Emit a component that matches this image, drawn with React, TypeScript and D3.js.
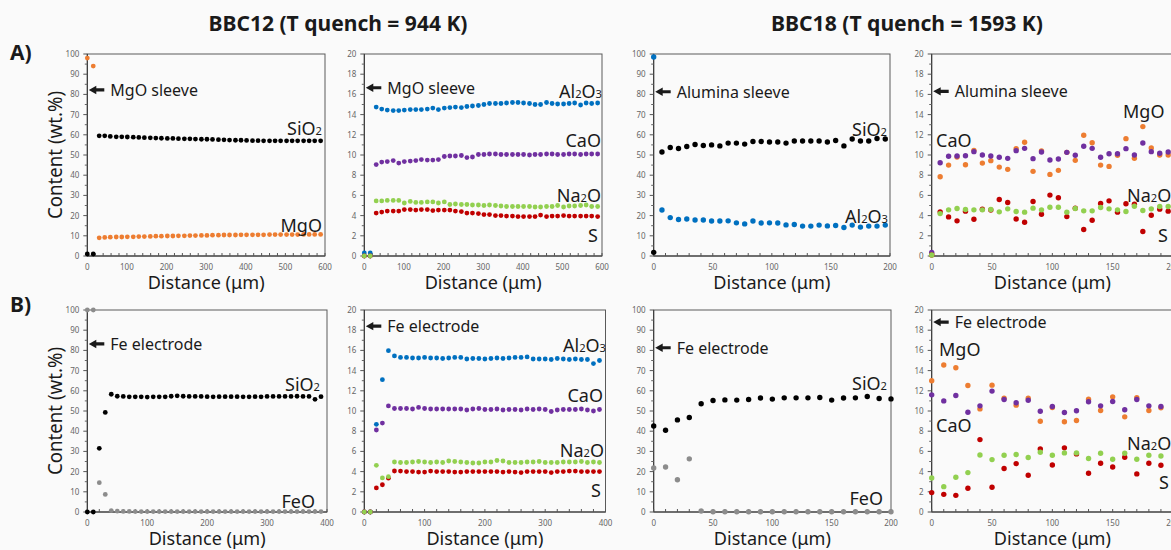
import React from 'react';
import * as d3 from 'd3';

// BBC12, profile A (MgO sleeve side) - distance in µm, contents in wt.%
const bbc12aDist = [0, 15, 30, 44, 58, 73, 87, 101, 116, 130, 144, 159, 173, 187, 202, 216, 230, 245, 259, 273, 288, 302, 316, 331, 345, 359, 374, 388, 402, 417, 431, 445, 460, 474, 488, 503, 517, 531, 546, 560, 574, 589];
const bbc12aSiO2 = [1, 1, 59.5, 59.5, 59.2, 59.0, 59.0, 58.9, 58.8, 58.7, 58.6, 58.5, 58.4, 58.3, 58.2, 58.2, 58.1, 58.0, 58.0, 57.9, 57.8, 57.8, 57.7, 57.6, 57.5, 57.4, 57.3, 57.3, 57.2, 57.1, 57.1, 57.0, 57.0, 57.0, 57.0, 57.0, 57.0, 57.0, 57.0, 57.0, 57.0, 57.0];
const bbc12aMgO = [98, 94, 9.0, 9.2, 9.3, 9.4, 9.4, 9.5, 9.5, 9.6, 9.6, 9.7, 9.8, 9.8, 9.9, 9.9, 10.0, 10.0, 10.1, 10.1, 10.2, 10.2, 10.3, 10.3, 10.4, 10.4, 10.4, 10.5, 10.5, 10.5, 10.5, 10.5, 10.6, 10.6, 10.6, 10.6, 10.6, 10.6, 10.7, 10.7, 10.7, 10.7];
const bbc12aAl2O3 = [0.3, 0.3, 14.75, 14.55, 14.45, 14.4, 14.4, 14.45, 14.5, 14.5, 14.5, 14.55, 14.65, 14.5, 14.65, 14.7, 14.75, 14.7, 14.8, 14.85, 14.9, 15.0, 15.1, 15.1, 15.1, 15.15, 15.2, 15.2, 15.15, 15.1, 15.0, 15.0, 15.2, 15.1, 15.05, 15.05, 15.1, 15.15, 14.95, 15.15, 15.1, 15.15];
const bbc12aCaO = [0, 0, 9.05, 9.3, 9.35, 9.45, 9.2, 9.35, 9.4, 9.45, 9.55, 9.5, 9.5, 9.55, 9.85, 9.9, 9.9, 9.95, 9.75, 9.8, 10.05, 10.05, 10.1, 10.1, 10.05, 10.05, 10.05, 10.05, 10.05, 10.0, 10.05, 10.05, 10.1, 10.1, 10.05, 10.05, 10.1, 10.1, 10.05, 10.1, 10.1, 10.1];
const bbc12aNa2O = [0, 0, 5.45, 5.45, 5.5, 5.5, 5.5, 5.25, 5.4, 5.3, 5.3, 5.35, 5.35, 5.25, 5.35, 5.1, 5.15, 5.1, 5.1, 5.05, 5.05, 5.0, 5.05, 5.0, 4.95, 4.9, 4.9, 4.9, 4.9, 4.9, 4.85, 4.85, 4.9, 4.9, 5.0, 4.85, 4.95, 4.95, 5.0, 5.05, 4.9, 4.9];
const bbc12aS = [0, 0, 4.25, 4.35, 4.45, 4.45, 4.45, 4.6, 4.6, 4.55, 4.6, 4.6, 4.5, 4.55, 4.55, 4.55, 4.45, 4.4, 4.25, 4.25, 4.2, 4.1, 4.1, 4.0, 4.0, 3.95, 3.95, 3.9, 3.9, 3.9, 3.9, 4.05, 3.9, 3.95, 3.95, 4.0, 3.95, 3.95, 3.95, 3.95, 3.95, 3.9];

// BBC12, profile B (Fe electrode side)
const bbc12bDist = [0, 10, 20, 30, 40, 50, 60, 70, 80, 90, 100, 110, 120, 130, 140, 150, 160, 170, 180, 190, 200, 210, 220, 230, 240, 250, 260, 270, 280, 290, 300, 310, 320, 330, 340, 350, 360, 370, 380, 390];
const bbc12bSiO2 = [0, 0, 31.5, 49.3, 58.3, 57.3, 57.2, 57.0, 57.0, 57.0, 56.9, 57.0, 57.0, 57.0, 57.3, 57.5, 57.3, 57.2, 57.2, 57.2, 57.1, 57.0, 57.1, 57.1, 57.1, 57.1, 57.0, 57.0, 57.1, 57.0, 57.2, 57.2, 57.2, 57.2, 57.2, 57.3, 57.2, 57.2, 55.8, 57.1];
const bbc12bFeO = [100, 100, 14.5, 8.7, 0.7, 0.4, 0.3, 0.3, 0.2, 0.2, 0.2, 0.2, 0.2, 0.2, 0.2, 0.2, 0.2, 0.2, 0.2, 0.2, 0.2, 0.2, 0.2, 0.2, 0.2, 0.2, 0.2, 0.2, 0.2, 0.2, 0.2, 0.2, 0.2, 0.2, 0.2, 0.2, 0.2, 0.2, 0.2, 0.2];
const bbc12bAl2O3 = [0, 0, 8.68, 13.1, 15.97, 15.45, 15.3, 15.3, 15.25, 15.25, 15.3, 15.25, 15.25, 15.2, 15.25, 15.3, 15.3, 15.15, 15.2, 15.2, 15.15, 15.2, 15.25, 15.2, 15.25, 15.3, 15.3, 15.35, 15.15, 15.15, 15.15, 15.1, 15.2, 15.15, 15.1, 15.15, 15.1, 15.1, 14.7, 15.0];
const bbc12bCaO = [0, 0, 8.12, 8.8, 10.5, 10.25, 10.25, 10.25, 10.2, 10.35, 10.25, 10.2, 10.2, 10.2, 10.2, 10.2, 10.2, 10.1, 10.2, 10.25, 10.15, 10.15, 10.2, 10.1, 10.15, 10.15, 10.1, 10.2, 10.15, 10.2, 10.15, 9.95, 10.1, 10.15, 10.15, 10.15, 10.2, 10.1, 10.0, 10.15];
const bbc12bNa2O = [0, 0, 4.62, 3.37, 3.5, 4.95, 4.9, 4.9, 4.95, 5.0, 4.95, 4.9, 4.95, 4.9, 5.05, 5.0, 4.95, 4.9, 4.85, 4.85, 4.95, 4.95, 5.1, 5.05, 4.9, 4.9, 4.9, 4.95, 4.95, 5.0, 4.9, 4.9, 4.9, 4.95, 4.95, 4.95, 5.0, 4.9, 4.95, 4.9];
const bbc12bS = [0, 0, 2.38, 2.7, 3.35, 4.06, 4.05, 4.0, 4.0, 3.95, 3.95, 4.05, 4.0, 4.0, 4.0, 3.95, 3.95, 4.0, 4.0, 4.0, 4.0, 4.0, 4.0, 3.95, 4.0, 3.95, 3.9, 4.0, 4.0, 4.0, 4.0, 3.9, 4.0, 4.0, 4.05, 4.05, 4.0, 4.0, 4.0, 4.0];

// BBC18, profile A (alumina sleeve side)
const bbc18aDist = [0, 7, 14, 21, 28, 35, 42, 49, 56, 63, 70, 77, 84, 91, 98, 105, 112, 119, 126, 133, 140, 147, 154, 161, 168, 175, 182, 189, 196];
const bbc18aSiO2 = [1.8, 51.5, 53.7, 53.2, 54.2, 55.2, 54.7, 55.0, 54.5, 55.9, 55.9, 55.4, 56.7, 56.7, 56.4, 56.4, 55.9, 56.9, 56.9, 56.9, 56.9, 56.4, 57.2, 54.5, 57.9, 56.9, 56.9, 58.2, 57.9];
const bbc18aAl2O3 = [98.5, 22.8, 19.0, 18.1, 18.3, 17.8, 17.8, 17.3, 17.3, 17.4, 16.4, 15.9, 17.3, 16.3, 16.4, 16.3, 15.4, 15.6, 14.8, 14.8, 15.3, 14.9, 15.1, 14.1, 15.3, 14.3, 14.8, 14.8, 15.3];
const bbc18aMgO = [0.2, 7.85, 9.0, 9.8, 9.04, 10.46, 9.2, 9.44, 8.8, 8.58, 10.63, 11.26, 8.38, 10.4, 8.08, 8.48, 10.26, 9.47, 11.95, 11.22, 9.0, 8.87, 9.97, 11.62, 9.67, 12.81, 10.7, 10.0, 10.0];
const bbc18aCaO = [0.35, 9.24, 9.87, 9.9, 9.93, 10.33, 10.0, 9.9, 9.77, 9.67, 10.43, 10.66, 9.64, 10.3, 9.5, 9.6, 10.26, 9.97, 10.86, 10.66, 9.77, 10.13, 10.13, 10.63, 10.0, 11.19, 10.33, 10.17, 10.3];
const bbc18aNa2O = [0.1, 4.2, 4.57, 4.7, 4.6, 4.57, 4.57, 4.6, 4.37, 4.67, 4.4, 4.34, 4.74, 4.57, 4.83, 4.83, 4.34, 4.7, 4.47, 4.47, 4.8, 4.67, 4.57, 4.4, 4.93, 4.5, 4.67, 4.9, 4.9];
const bbc18aS = [0.1, 4.37, 3.87, 3.48, 4.44, 3.64, 4.64, 4.55, 5.6, 5.3, 3.67, 3.34, 5.4, 4.14, 6.03, 5.76, 3.9, 4.73, 2.62, 3.54, 5.2, 5.46, 4.34, 5.17, 5.13, 2.42, 4.04, 4.64, 4.44];

// BBC18, profile B (Fe electrode side)
const bbc18bDist = [0, 10, 20, 30, 40, 50, 60, 70, 80, 90, 100, 110, 120, 130, 140, 150, 160, 170, 180, 190, 200];
const bbc18bSiO2 = [42.6, 40.5, 45.6, 46.8, 53.6, 55.2, 55.5, 55.4, 55.7, 56.4, 55.9, 56.5, 56.5, 56.5, 56.7, 55.4, 56.4, 56.5, 57.2, 56.2, 56.0];
const bbc18bFeO = [21.8, 22.3, 16.0, 26.3, 0.5, 0.1, 0.1, 0.1, 0.1, 0.1, 0.1, 0.1, 0.1, 0.1, 0.1, 0.1, 0.1, 0.1, 0.1, 0.1, 0.1];
const bbc18bMgO = [13.0, 14.55, 14.28, 12.53, 10.21, 12.56, 11.27, 10.58, 11.27, 8.99, 10.35, 8.93, 9.06, 11.17, 10.05, 11.4, 9.42, 11.31, 10.05, 10.31];
const bbc18bCaO = [11.6, 11.0, 11.54, 9.88, 10.51, 11.97, 11.14, 10.81, 11.07, 9.98, 10.45, 9.85, 10.02, 10.91, 10.51, 10.94, 10.12, 11.14, 10.51, 10.45];
const bbc18bNa2O = [3.37, 2.51, 3.44, 3.9, 5.65, 5.19, 5.62, 5.69, 5.39, 5.92, 5.62, 5.85, 5.85, 5.29, 5.82, 5.22, 5.82, 5.22, 5.62, 5.55];
const bbc18bS = [1.92, 1.75, 1.65, 2.35, 7.17, 2.45, 4.3, 4.79, 3.64, 6.25, 4.66, 6.35, 5.75, 3.83, 4.83, 4.46, 5.42, 3.77, 4.83, 4.63];

const COLORS: Record<string, string> = {
  SiO2: '#000000',
  MgO: '#ED7D31',
  Al2O3: '#0070C0',
  CaO: '#7030A0',
  Na2O: '#92D050',
  S: '#C00000',
  FeO: '#8C8C8C',
};

const FONT = "'Noto Sans', 'Open Sans', sans-serif";

type Series = { name: string; values: number[] };
type Tag = { text: string; x: number; y: number; anchor: 'start' | 'end' };
type PanelCfg = {
  left: number; right: number; top: number; bottom: number;
  xMax: number; yMax: number; xStep: number; xMinor: number;
  dist: number[]; series: Series[]; tags: Tag[];
  note: string; noteY: number; r: number; yTitle: boolean;
};

// chemical formula with small digits
const Chem = ({ s }: { s: string }) => (
  <>
    {s.split(/(\d)/).filter(Boolean).map((p, i) =>
      /\d/.test(p)
        ? <tspan key={i} fontSize="0.62em">{p}</tspan>
        : <tspan key={i}>{p}</tspan>
    )}
  </>
);

const TOP = { top: 54, bottom: 256 };
const BOT = { top: 310, bottom: 512 };

const panels: PanelCfg[] = [
  {
    ...TOP, left: 87.3, right: 325, xMax: 600, yMax: 100, xStep: 100, xMinor: 20, r: 2.4, yTitle: true,
    dist: bbc12aDist,
    series: [{ name: 'SiO2', values: bbc12aSiO2 }, { name: 'MgO', values: bbc12aMgO }],
    tags: [{ text: 'SiO2', x: 322, y: 135, anchor: 'end' }, { text: 'MgO', x: 322, y: 232, anchor: 'end' }],
    note: 'MgO sleeve', noteY: 82.2,
  },
  {
    ...TOP, left: 364.3, right: 602, xMax: 600, yMax: 20, xStep: 100, xMinor: 20, r: 2.4, yTitle: false,
    dist: bbc12aDist,
    series: [{ name: 'Al2O3', values: bbc12aAl2O3 }, { name: 'CaO', values: bbc12aCaO }, { name: 'S', values: bbc12aS }, { name: 'Na2O', values: bbc12aNa2O }],
    tags: [
      { text: 'Al2O3', x: 602, y: 98, anchor: 'end' }, { text: 'CaO', x: 601, y: 147, anchor: 'end' },
      { text: 'Na2O', x: 601, y: 202, anchor: 'end' }, { text: 'S', x: 598, y: 242, anchor: 'end' },
    ],
    note: 'MgO sleeve', noteY: 16.66,
  },
  {
    ...TOP, left: 653.7, right: 890, xMax: 200, yMax: 100, xStep: 50, xMinor: 10, r: 2.7, yTitle: false,
    dist: bbc18aDist,
    series: [{ name: 'SiO2', values: bbc18aSiO2 }, { name: 'Al2O3', values: bbc18aAl2O3 }],
    tags: [{ text: 'SiO2', x: 887, y: 136, anchor: 'end' }, { text: 'Al2O3', x: 888, y: 223, anchor: 'end' }],
    note: 'Alumina sleeve', noteY: 81.3,
  },
  {
    ...TOP, left: 931.7, right: 1173, xMax: 200, yMax: 20, xStep: 50, xMinor: 10, r: 2.7, yTitle: false,
    dist: bbc18aDist,
    series: [{ name: 'MgO', values: bbc18aMgO }, { name: 'CaO', values: bbc18aCaO }, { name: 'S', values: bbc18aS }, { name: 'Na2O', values: bbc18aNa2O }],
    tags: [
      { text: 'CaO', x: 936, y: 147, anchor: 'start' }, { text: 'MgO', x: 1123, y: 118, anchor: 'start' },
      { text: 'Na2O', x: 1127, y: 202, anchor: 'start' }, { text: 'S', x: 1158, y: 242, anchor: 'start' },
    ],
    note: 'Alumina sleeve', noteY: 16.3,
  },
  {
    ...BOT, left: 87.3, right: 327, xMax: 400, yMax: 100, xStep: 100, xMinor: 20, r: 2.4, yTitle: true,
    dist: bbc12bDist,
    series: [{ name: 'FeO', values: bbc12bFeO }, { name: 'SiO2', values: bbc12bSiO2 }],
    tags: [{ text: 'SiO2', x: 320, y: 391, anchor: 'end' }, { text: 'FeO', x: 315, y: 508, anchor: 'end' }],
    note: 'Fe electrode', noteY: 83.2,
  },
  {
    ...BOT, left: 364.3, right: 605.5, xMax: 400, yMax: 20, xStep: 100, xMinor: 20, r: 2.4, yTitle: false,
    dist: bbc12bDist,
    series: [{ name: 'Al2O3', values: bbc12bAl2O3 }, { name: 'CaO', values: bbc12bCaO }, { name: 'S', values: bbc12bS }, { name: 'Na2O', values: bbc12bNa2O }],
    tags: [
      { text: 'Al2O3', x: 606, y: 352, anchor: 'end' }, { text: 'CaO', x: 603, y: 402, anchor: 'end' },
      { text: 'Na2O', x: 604, y: 457, anchor: 'end' }, { text: 'S', x: 601, y: 497, anchor: 'end' },
    ],
    note: 'Fe electrode', noteY: 18.4,
  },
  {
    ...BOT, left: 653.7, right: 891, xMax: 200, yMax: 100, xStep: 50, xMinor: 10, r: 2.7, yTitle: false,
    dist: bbc18bDist,
    series: [{ name: 'FeO', values: bbc18bFeO }, { name: 'SiO2', values: bbc18bSiO2 }],
    tags: [{ text: 'SiO2', x: 887, y: 390, anchor: 'end' }, { text: 'FeO', x: 883, y: 505, anchor: 'end' }],
    note: 'Fe electrode', noteY: 81.3,
  },
  {
    ...BOT, left: 931.7, right: 1173, xMax: 200, yMax: 20, xStep: 50, xMinor: 10, r: 2.7, yTitle: false,
    dist: bbc18bDist,
    series: [{ name: 'MgO', values: bbc18bMgO }, { name: 'CaO', values: bbc18bCaO }, { name: 'S', values: bbc18bS }, { name: 'Na2O', values: bbc18bNa2O }],
    tags: [
      { text: 'MgO', x: 939, y: 356, anchor: 'start' }, { text: 'CaO', x: 936, y: 432, anchor: 'start' },
      { text: 'Na2O', x: 1127, y: 450, anchor: 'start' }, { text: 'S', x: 1159, y: 489, anchor: 'start' },
    ],
    note: 'Fe electrode', noteY: 18.8,
  },
];

function Panel({ p }: { p: PanelCfg }) {
  const x = d3.scaleLinear().domain([0, p.xMax]).range([p.left, p.right]);
  const y = d3.scaleLinear().domain([0, p.yMax]).range([p.bottom, p.top]);
  const yMajor = d3.range(0, p.yMax + 1e-9, p.yMax / 10);
  const yMinor = d3.range(p.yMax / 20, p.yMax, p.yMax / 10);
  const xAll = d3.range(0, p.xMax + 1e-9, p.xMinor);
  const xMajor = xAll.filter(v => Math.abs(v % p.xStep) < 1e-9);
  const ay = y(p.noteY);
  const ax = p.left;
  const arrow = `M${ax + 1.5},${ay} L${ax + 9},${ay - 4.2} L${ax + 9},${ay - 1.6} L${ax + 17},${ay - 1.6} L${ax + 17},${ay + 1.6} L${ax + 9},${ay + 1.6} L${ax + 9},${ay + 4.2} Z`;

  return (
    <g>
      <rect x={p.left} y={p.top} width={p.right - p.left} height={p.bottom - p.top} fill="none" stroke="#5a5a5a" strokeWidth={1} />
      <line x1={p.left} x2={p.left} y1={p.top} y2={p.bottom} stroke="#333" />
      <line x1={p.left} x2={p.right} y1={p.bottom} y2={p.bottom} stroke="#333" />
      {yMajor.map(v => (
        <g key={'ym' + v}>
          <line x1={p.left - 4} x2={p.left} y1={y(v)} y2={y(v)} stroke="#555" />
          <text x={p.left - 8} y={y(v) + 3} textAnchor="end" fontSize={8} fill="#666">{v}</text>
        </g>
      ))}
      {yMinor.map(v => (
        <line key={'yn' + v} x1={p.left - 2.5} x2={p.left} y1={y(v)} y2={y(v)} stroke="#666" />
      ))}
      {xAll.map(v => (
        <line key={'xt' + v} x1={x(v)} x2={x(v)} y1={p.bottom} y2={p.bottom - 3} stroke="#555" />
      ))}
      {xMajor.map(v => (
        <text key={'xl' + v} x={x(v)} y={p.bottom + 13.5} textAnchor="middle" fontSize={8} fill="#666">{v}</text>
      ))}
      {p.series.map(s => (
        <g key={s.name} fill={COLORS[s.name]}>
          {s.values.map((v, i) => (
            <circle key={i} cx={x(p.dist[i])} cy={y(v)} r={p.r} />
          ))}
        </g>
      ))}
      {p.tags.map(t => (
        <text key={t.text} x={t.x} y={t.y} textAnchor={t.anchor} fontSize={18} fill="#1a1a1a">
          <Chem s={t.text} />
        </text>
      ))}
      <path d={arrow} fill="#1a1a1a" />
      <text x={p.left + 23} y={ay + 6} fontSize={16} fill="#1a1a1a">{p.note}</text>
      <text x={(p.left + p.right) / 2} y={p.bottom + 33} textAnchor="middle" fontSize={18}
        fill="#1a1a1a" textLength={117} lengthAdjust="spacingAndGlyphs">Distance (μm)</text>
      {p.yTitle && (
        <text transform={`translate(62,${(p.top + p.bottom) / 2}) rotate(-90)`} textAnchor="middle" fontSize={19}
          fill="#1a1a1a" textLength={128} lengthAdjust="spacingAndGlyphs">Content (wt.%)</text>
      )}
    </g>
  );
}

export default function App() {
  return (
    <svg width={1171} height={550} style={{ position: 'absolute', left: 0, top: 0, fontFamily: FONT }}>
      <rect x={0} y={0} width={1171} height={550} fill="#fafafa" />
      <text x={338} y={31} textAnchor="middle" fontSize={22} fontWeight="bold" fill="#1a1a1a"
        textLength={259} lengthAdjust="spacingAndGlyphs">BBC12 (T quench = 944 K)</text>
      <text x={907} y={31} textAnchor="middle" fontSize={22} fontWeight="bold" fill="#1a1a1a"
        textLength={272} lengthAdjust="spacingAndGlyphs">BBC18 (T quench = 1593 K)</text>
      <text x={10} y={60} fontSize={21} fontWeight="bold" fill="#1a1a1a">A)</text>
      <text x={10} y={312} fontSize={21} fontWeight="bold" fill="#1a1a1a">B)</text>
      {panels.map((p, i) => <Panel key={i} p={p} />)}
    </svg>
  );
}
